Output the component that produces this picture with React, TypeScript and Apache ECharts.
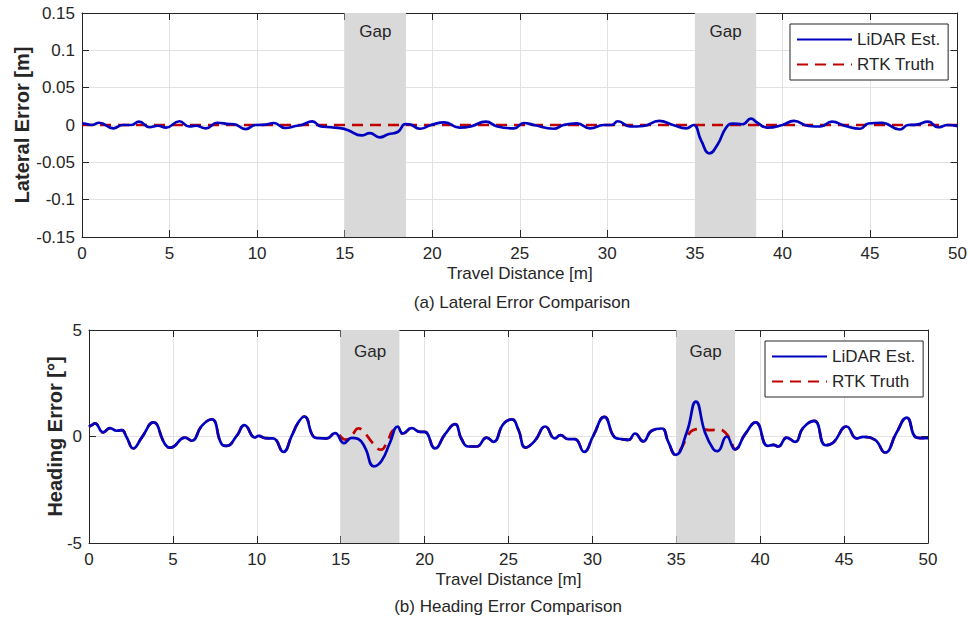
import React, { useEffect, useRef } from "react";
import * as echarts from "echarts";

// ---------- data ----------
const distanceTicks = { min: 0, max: 50, interval: 5 };
const lateralTicks = { min: -0.15, max: 0.15, interval: 0.05 };
const headingTicks = { min: -5, max: 5, interval: 5 };

const gaps: [number, number][] = [
  [15, 18.5],
  [35, 38.5],
];

const lateralLidar: [number, number][] = [
  [0, 0.002], [0.08, 0.002], [0.55, 0], [0.98, 0.003], [1.78, -0.0045], [2.34, 0], [2.82, 0],
  [3.25, 0.0045], [3.86, -0.003], [4.33, -0.001], [4.8, -0.0035], [5.56, 0.005], [6.12, -0.002],
  [6.5, -0.001], [7.07, -0.0045], [7.73, 0.003], [8.39, 0.0013], [8.68, 0.001], [9.34, -0.0054],
  [9.9, 0], [10.47, 0.0005], [10.95, 0.0027], [11.6, -0.004], [12.27, -0.001], [12.55, 0],
  [13.15, 0.0048], [13.65, -0.002], [14.2, -0.003], [14.83, -0.0045], [15.2, -0.007],
  [15.96, -0.014], [16.44, -0.011], [17.0, -0.0165], [17.48, -0.0125], [18.05, -0.009],
  [18.46, 0.0013], [18.7, 0.001], [19.28, -0.005], [19.94, 0], [20.7, 0.0036], [21.55, -0.0036],
  [22.2, -0.002], [23.06, 0.0045], [23.72, -0.002], [24.67, -0.0045], [25.24, 0.0027], [25.8, 0],
  [26.94, -0.005], [27.5, 0], [28.26, 0.0022], [29.02, -0.0045], [29.78, 0], [30.25, 0],
  [30.6, 0.005], [31.29, -0.002], [32.05, -0.0013], [32.96, 0.0054], [33.75, 0], [34.5, -0.0045],
  [34.92, 0], [35.36, -0.021], [35.83, -0.038], [36.3, -0.026], [36.78, -0.0036], [37.15, 0.0018],
  [37.72, 0.001], [38.2, 0.0085], [38.57, 0.003], [39.14, -0.0036], [40.0, 0], [40.65, 0.0054],
  [41.5, -0.0013], [42.17, -0.002], [42.83, 0.0045], [43.59, -0.0013], [44.44, -0.005],
  [44.9, 0.002], [45.67, 0.003], [46.7, -0.006], [47.18, 0], [47.66, 0.0005], [48.32, 0.0045],
  [48.88, -0.003], [49.45, 0], [50, -0.0015],
];

const lateralRtk: [number, number][] = [
  [0, 0], [50, 0],
];

const headingLidar: [number, number][] = [
  [0, 0.45], [0.16, 0.53], [0.35, 0.62], [0.85, 0.19], [1.25, 0.39], [1.65, 0.27], [1.95, 0.3],
  [2.25, -0.05], [2.64, -0.56], [3.14, -0.05], [3.83, 0.66], [4.53, -0.36], [4.83, -0.52],
  [5.03, -0.48], [5.72, -0.05], [6.12, -0.2], [6.72, 0.5], [7.31, 0.81], [7.91, -0.36],
  [8.2, -0.44], [8.8, 0.03], [9.26, 0.53], [9.9, -0.05], [10.1, 0.03], [10.5, -0.08],
  [10.98, -0.09], [11.58, -0.72], [12.08, 0.03], [12.47, 0.66], [12.83, 0.94], [13.37, 0],
  [13.67, -0.08], [14.17, -0.09], [14.66, 0.16], [15.2, -0.31], [15.66, -0.06], [16.05, -0.12],
  [16.45, -0.52], [16.98, -1.4], [17.44, -1.14], [17.94, -0.28], [18.4, 0.47], [18.7, 0.14],
  [19.23, 0.39], [19.73, 0.22], [20.0, 0.22], [20.62, -0.56], [21.22, 0.11], [21.81, 0.58],
  [22.2, -0.12], [22.6, -0.47], [23.1, -0.47], [23.7, -0.05], [24.1, -0.25], [24.69, 0.58],
  [25.2, 0.8], [25.58, 0.34], [26.02, -0.52], [26.57, -0.2], [27.2, 0.47], [27.76, -0.09],
  [28.1, 0.06], [28.55, -0.12], [28.96, -0.12], [29.5, -0.72], [30.05, 0.03], [30.71, 0.92],
  [31.35, -0.05], [31.75, -0.12], [32.15, -0.16], [32.54, 0.14], [33.03, -0.23], [33.53, 0.27],
  [34.13, 0.375], [34.52, -0.25], [34.96, -0.86], [35.62, 0.19], [36.17, 1.64], [36.71, 0.19],
  [37.2, -0.59], [37.45, -0.69], [38.0, 0], [38.5, -0.6], [39.1, 0.11], [39.73, 0.66],
  [40.45, -0.44], [40.78, -0.39], [41.08, -0.47], [41.58, -0.05], [42.07, -0.25], [42.57, 0.42],
  [43.22, 0.73], [43.9, -0.41], [44.36, -0.28], [45.15, 0.47], [45.75, -0.09], [46.14, -0.02],
  [46.84, -0.16], [47.44, -0.75], [48.13, 0.19], [48.73, 0.89], [49.33, -0.05], [49.93, -0.08],
  [50, -0.08],
];

// RTK truth equals the LiDAR estimate outside the gaps; inside the gaps it is read separately
const headingRtkGap1: [number, number][] = [
  [15.3, -0.15], [15.7, 0.1], [16.05, 0.38], [16.4, 0.2], [16.9, -0.3], [17.4, -0.62],
  [17.8, -0.2], [18.2, 0.3],
];
const headingRtkGap2: [number, number][] = [
  [35.3, -0.55], [35.7, 0.05], [36.0, 0.3], [36.5, 0.35], [37.0, 0.3], [37.5, 0.32],
  [37.9, 0.2], [38.25, -0.2],
];

const seriesNames = ["LiDAR Est.", "RTK Truth"];
const captions = ["(a) Lateral Error Comparison", "(b) Heading Error Comparison"];
const xTitle = "Travel Distance [m]";
const yTitles = ["Lateral Error [m]", "Heading Error [°]"];
const gapLabel = "Gap";

// ---------- styles ----------
const FONT = "'Liberation Sans', Arial, Helvetica, sans-serif";
const INK = "#262626";
const BLUE = "#0000c0";
const RED = "#c00000";

function inGap(x: number) {
  return gaps.some(([a, b]) => x > a && x < b);
}

const headingRtk: [number, number][] = [
  ...headingLidar.filter(([x]) => !inGap(x)),
  ...headingRtkGap1,
  ...headingRtkGap2,
].sort((a, b) => a[0] - b[0]);

function fmt(v: number) {
  return String(parseFloat(v.toFixed(3)));
}

function xAxis(gridIndex: number, pos: "bottom" | "top", name?: string) {
  const main = pos === "bottom";
  return {
    type: "value",
    gridIndex,
    position: pos,
    ...distanceTicks,
    name: main ? name : undefined,
    nameLocation: "middle",
    nameGap: 28,
    nameMoveOverlap: false,
    nameTextStyle: { fontFamily: FONT, fontSize: 17, color: INK },
    axisLine: { show: true, onZero: false, lineStyle: { color: INK, width: 1 } },
    axisTick: { show: true, inside: true, length: 7, lineStyle: { color: INK } },
    axisLabel: {
      show: main,
      margin: 8,
      fontFamily: FONT,
      fontSize: 17,
      color: INK,
      formatter: fmt,
    },
    splitLine: { show: main, lineStyle: { color: "#e2e2e2", width: 1 } },
  };
}

function yAxis(
  gridIndex: number,
  pos: "left" | "right",
  ticks: { min: number; max: number; interval: number },
  name?: string,
  nameGap?: number
) {
  const main = pos === "left";
  return {
    type: "value",
    gridIndex,
    position: pos,
    ...ticks,
    name: main ? name : undefined,
    nameLocation: "middle",
    nameGap: nameGap,
    nameMoveOverlap: false,
    nameTextStyle: { fontFamily: FONT, fontSize: 20, fontWeight: "bold", color: INK },
    axisLine: { show: true, onZero: false, lineStyle: { color: INK, width: 1 } },
    axisTick: { show: true, inside: true, length: 7, lineStyle: { color: INK } },
    axisLabel: {
      show: main,
      margin: 7,
      fontFamily: FONT,
      fontSize: 17,
      color: INK,
      formatter: fmt,
    },
    splitLine: { show: main, lineStyle: { color: "#e2e2e2", width: 1 } },
  };
}

function gapArea(labelDistance: number) {
  return {
    silent: true,
    itemStyle: { color: "#d9d9d9", opacity: 1 },
    label: {
      show: true,
      position: "insideTop",
      distance: labelDistance,
      fontFamily: FONT,
      fontSize: 17,
      color: INK,
    },
    data: gaps.map(([a, b]) => [{ name: gapLabel, xAxis: a }, { xAxis: b }]),
  };
}

function legend(left: number, top: number) {
  return {
    left,
    top,
    orient: "vertical",
    data: seriesNames,
    itemWidth: 55,
    itemHeight: 12,
    itemGap: 8,
    padding: [7, 8, 7, 6],
    backgroundColor: "#ffffff",
    borderColor: INK,
    borderWidth: 1,
    borderRadius: 0,
    selectedMode: false,
    itemStyle: { opacity: 0 },
    textStyle: { fontFamily: FONT, fontSize: 17, color: INK },
  };
}

export default function App() {
  const ref = useRef<HTMLDivElement>(null);

  useEffect(() => {
    document.body.style.margin = "0";
    if (!ref.current) return;
    const chart = echarts.init(ref.current, undefined, { renderer: "svg" });

    const lineBlue = { color: BLUE, width: 2.7, type: "solid" };
    const lineRed = { color: RED, width: 2.7, type: [11, 7] };

    chart.setOption({
      animation: false,
      backgroundColor: "#ffffff",
      grid: [
        { left: 82, top: 13, width: 881, height: 224, containLabel: false },
        { left: 89, top: 330, width: 839, height: 213, containLabel: false },
      ],
      xAxis: [
        xAxis(0, "bottom", xTitle),
        xAxis(0, "top"),
        xAxis(1, "bottom", xTitle),
        xAxis(1, "top"),
      ],
      yAxis: [
        yAxis(0, "left", lateralTicks, yTitles[0], 50),
        yAxis(0, "right", lateralTicks),
        yAxis(1, "left", headingTicks, yTitles[1], 24),
        yAxis(1, "right", headingTicks),
      ],
      legend: [legend(790, 24), legend(765, 341)],
      series: [
        {
          name: seriesNames[1],
          type: "line",
          xAxisIndex: 0,
          yAxisIndex: 0,
          data: lateralRtk,
          symbol: "none",
          lineStyle: lineRed,
          itemStyle: { color: RED },
          z: 2,
          markArea: gapArea(10),
        },
        {
          name: seriesNames[0],
          type: "line",
          xAxisIndex: 0,
          yAxisIndex: 0,
          data: lateralLidar,
          symbol: "none",
          smooth: 0.5,
          lineStyle: lineBlue,
          itemStyle: { color: BLUE },
          z: 3,
        },
        {
          name: seriesNames[1],
          type: "line",
          xAxisIndex: 2,
          yAxisIndex: 2,
          data: headingRtk,
          symbol: "none",
          smooth: 0.5,
          lineStyle: lineRed,
          itemStyle: { color: RED },
          z: 2,
          markArea: gapArea(13),
        },
        {
          name: seriesNames[0],
          type: "line",
          xAxisIndex: 2,
          yAxisIndex: 2,
          data: headingLidar,
          symbol: "none",
          smooth: 0.5,
          lineStyle: lineBlue,
          itemStyle: { color: BLUE },
          z: 3,
        },
      ],
      graphic: [
        {
          type: "text",
          x: 522,
          y: 302,
          style: {
            text: captions[0],
            fontFamily: FONT,
            fontSize: 17,
            fill: INK,
            textAlign: "center",
            textVerticalAlign: "middle",
          },
        },
        {
          type: "text",
          x: 508,
          y: 606,
          style: {
            text: captions[1],
            fontFamily: FONT,
            fontSize: 17,
            fill: INK,
            textAlign: "center",
            textVerticalAlign: "middle",
          },
        },
      ],
    });

    return () => chart.dispose();
  }, []);

  return <div ref={ref} style={{ width: 970, height: 618 }} />;
}
